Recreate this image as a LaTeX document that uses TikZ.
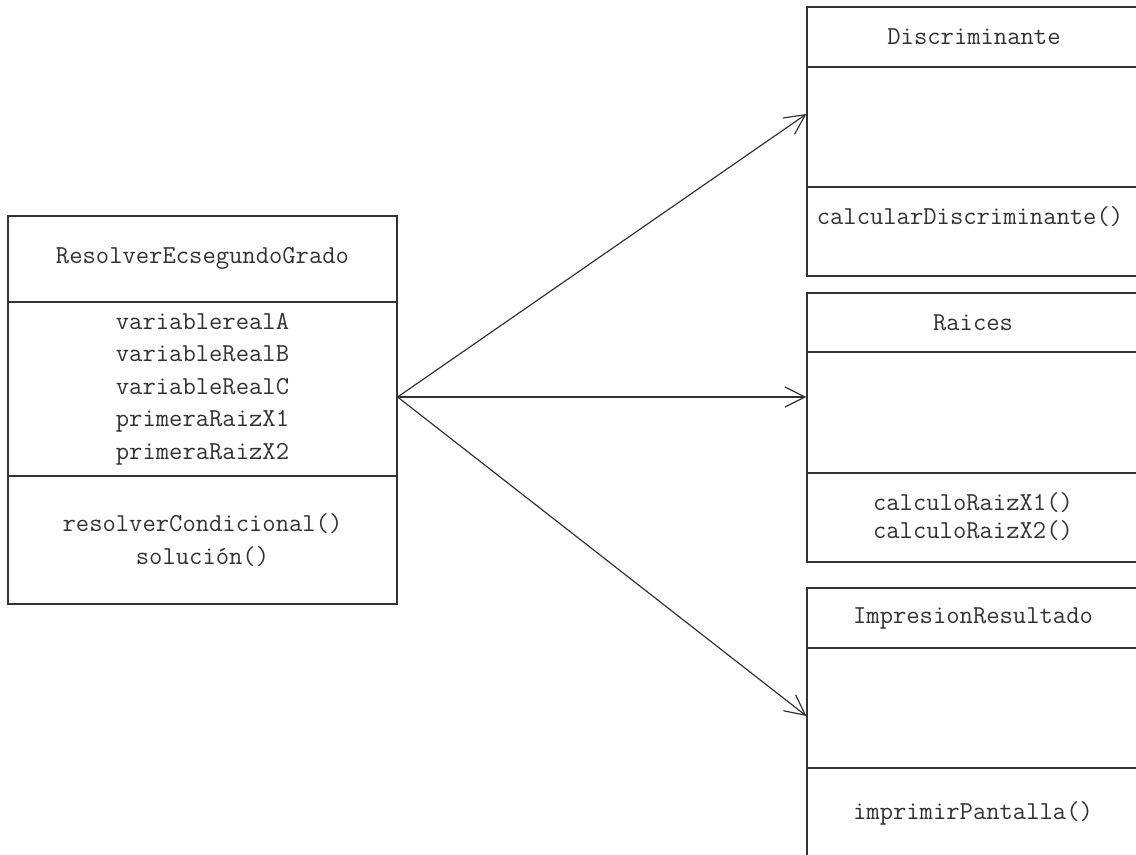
\documentclass[tikz,border=0pt]{standalone}
\usepackage{tikz}
\usepackage{xcolor}
\usetikzlibrary{shapes,arrows,arrows.meta,positioning,calc}
\definecolor{umlline}{RGB}{51,51,51}
\definecolor{umltext}{RGB}{50,50,50}

\tikzset{
    classbox/.style 2 args={draw=umlline, line width=0.9pt, inner sep=0pt,
        minimum width=#1*0.75pt, minimum height=#2*0.75pt},
    classtext/.style={text=umltext, align=center, inner sep=0pt,
        font=\fontsize{19.4}{24.4}\selectfont\ttfamily},
    divider/.style={draw=umlline, line width=0.9pt},
    uses/.style={draw=umlline, line width=0.9pt, -{Straight Barb[length=15pt,width=15pt]}}
}

\begin{document}
\begin{tikzpicture}[x=0.75pt, y=-0.75pt]
    \useasboundingbox (0,0) rectangle (1136,854);
    \clip (0,0) rectangle (1136,854);

    % clase principal
    \node[classbox={389}{388}] (resolver) at (202.5,410) {};
    \draw[divider] (resolver.west |- 0,302) -- (resolver.east |- 0,302);
    \draw[divider] (resolver.west |- 0,476) -- (resolver.east |- 0,476);
    \node[classtext] (resolvername) at (202.5,258) {ResolverEcsegundoGrado};
    \node[classtext] (resolverattr) at (202.5,389) {variablerealA\\variableRealB\\variableRealC\\primeraRaizX1\\primeraRaizX2};
    \node[classtext] (resolverops) at (202.5,540) {resolverCondicional()\\solución()};

    % clases usadas
    \node[classbox={332}{269}] (discriminante) at (973,141.5) {};
    \draw[divider] (discriminante.west |- 0,67) -- (discriminante.east |- 0,67);
    \draw[divider] (discriminante.west |- 0,187) -- (discriminante.east |- 0,187);
    \node[classtext] (discname) at (974,37) {Discriminante};
    \node[classtext] (discops) at (970,217) {calcularDiscriminante()};

    \node[classbox={332}{269}] (raices) at (973,427.5) {};
    \draw[divider] (raices.west |- 0,352) -- (raices.east |- 0,352);
    \draw[divider] (raices.west |- 0,473) -- (raices.east |- 0,473);
    \node[classtext] (raicesname) at (973,323) {Raices};
    \node[classtext] (raicesops) at (973,516.5) {calculoRaizX1()\\[-4pt]calculoRaizX2()};

    \node[classbox={332}{270}] (impresion) at (973,723) {};
    \draw[divider] (impresion.west |- 0,648) -- (impresion.east |- 0,648);
    \draw[divider] (impresion.west |- 0,768) -- (impresion.east |- 0,768);
    \node[classtext] (impresionname) at (973,618) {ImpresionResultado};
    \node[classtext] (impresionops) at (973,813) {imprimirPantalla()};

    % dependencias
    \coordinate (src) at (resolver.east |- 0,397);
    \draw[uses] (src) -- (discriminante.west |- 0,114);
    \draw[uses] (src) -- (raices.west |- 0,397);
    \draw[uses] (src) -- (impresion.west |- 0,716);
\end{tikzpicture}
\end{document}
